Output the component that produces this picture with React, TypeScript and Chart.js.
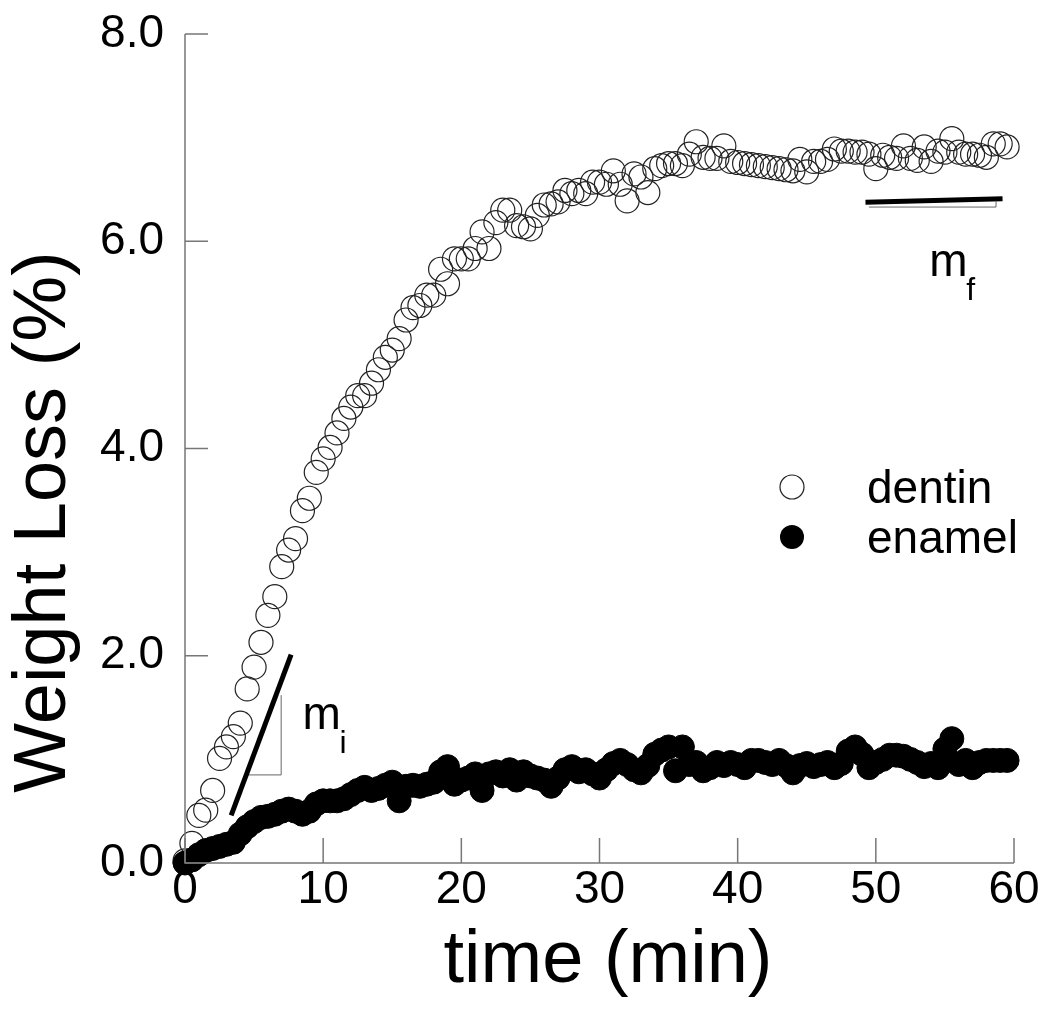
import React, { useEffect, useRef } from "react";
import { Chart, registerables } from "chart.js";

Chart.register(...registerables);

const timeMin = [
  0, 0.5, 1, 1.5, 2, 2.5, 3, 3.5, 4, 4.5,
  5, 5.5, 6, 6.5, 7, 7.5, 8, 8.5, 9, 9.5,
  10, 10.5, 11, 11.5, 12, 12.5, 13, 13.5, 14, 14.5,
  15, 15.5, 16, 16.5, 17, 17.5, 18, 18.5, 19, 19.5,
  20, 20.5, 21, 21.5, 22, 22.5, 23, 23.5, 24, 24.5,
  25, 25.5, 26, 26.5, 27, 27.5, 28, 28.5, 29, 29.5,
  30, 30.5, 31, 31.5, 32, 32.5, 33, 33.5, 34, 34.5,
  35, 35.5, 36, 36.5, 37, 37.5, 38, 38.5, 39, 39.5,
  40, 40.5, 41, 41.5, 42, 42.5, 43, 43.5, 44, 44.5,
  45, 45.5, 46, 46.5, 47, 47.5, 48, 48.5, 49, 49.5,
  50, 50.5, 51, 51.5, 52, 52.5, 53, 53.5, 54, 54.5,
  55, 55.5, 56, 56.5, 57, 57.5, 58, 58.5, 59, 59.5,
];

const dentin = [
  0.02, 0.19, 0.46, 0.51, 0.70, 1.01, 1.12, 1.22, 1.35, 1.68,
  1.89, 2.13, 2.39, 2.57, 2.86, 3.02, 3.13, 3.40, 3.52, 3.77,
  3.90, 4.01, 4.15, 4.29, 4.40, 4.51, 4.51, 4.63, 4.76, 4.88,
  4.95, 5.06, 5.24, 5.36, 5.38, 5.48, 5.48, 5.73, 5.59, 5.83,
  5.83, 5.83, 5.93, 6.09, 5.93, 6.18, 6.30, 6.30, 6.15, 6.14,
  6.12, 6.25, 6.35, 6.36, 6.38, 6.49, 6.46, 6.49, 6.46, 6.57,
  6.57, 6.55, 6.68, 6.55, 6.39, 6.65, 6.62, 6.47, 6.70, 6.73,
  6.75, 6.75, 6.73, 6.84, 6.96, 6.81, 6.80, 6.80, 6.92, 6.77,
  6.76, 6.75, 6.74, 6.73, 6.72, 6.71, 6.70, 6.69, 6.68, 6.79,
  6.67, 6.77, 6.77, 6.79, 6.89, 6.87, 6.87, 6.86, 6.86, 6.84,
  6.70, 6.83, 6.81, 6.80, 6.92, 6.80, 6.78, 6.91, 6.77, 6.87,
  6.86, 6.99, 6.86, 6.84, 6.84, 6.83, 6.81, 6.94, 6.94, 6.91,
];

const enamel = [
  0.00, 0.03, 0.08, 0.12, 0.14, 0.16, 0.18, 0.20, 0.28, 0.35,
  0.40, 0.44, 0.45, 0.47, 0.50, 0.52, 0.50, 0.47, 0.50, 0.57,
  0.60, 0.60, 0.60, 0.62, 0.66, 0.70, 0.73, 0.70, 0.72, 0.75,
  0.78, 0.60, 0.74, 0.75, 0.74, 0.76, 0.78, 0.88, 0.93, 0.76,
  0.80, 0.82, 0.86, 0.70, 0.86, 0.88, 0.84, 0.90, 0.80, 0.88,
  0.84, 0.82, 0.80, 0.74, 0.82, 0.90, 0.93, 0.88, 0.90, 0.86,
  0.82, 0.90, 0.96, 0.99, 0.95, 0.90, 0.87, 0.94, 1.05, 1.09,
  1.12, 0.89, 1.12, 0.95, 0.97, 0.89, 0.92, 0.97, 0.94, 0.97,
  0.95, 0.92, 0.99, 0.99, 0.97, 0.95, 0.99, 0.94, 0.87, 0.94,
  0.96, 0.93, 0.95, 0.97, 0.92, 0.96, 1.08, 1.12, 1.05, 0.92,
  0.97, 1.00, 1.04, 1.04, 1.03, 1.00, 0.97, 0.93, 0.96, 0.92,
  1.10, 1.20, 0.95, 0.99, 0.92, 0.97, 0.99, 0.99, 0.99, 0.99,
];

const xTicks = [0, 10, 20, 30, 40, 50, 60];
const yTicks = [0, 2, 4, 6, 8];

// slope annotations (data coordinates)
const miLineX = [3.34, 7.68];
const miLineY = [0.46, 2.01];
const miTriX = [4.43, 6.96, 6.96];
const miTriY = [0.85, 0.85, 1.62];
const mfLineX = [49.25, 59.17];
const mfLineY = [6.377, 6.41];
const mfTriX = [49.5, 58.7, 58.7];
const mfTriY = [6.33, 6.33, 6.39];
const miLabelAt = { x: 8.5, y: 1.29 };
const mfLabelAt = { x: 53.87, y: 5.66 };

const FONT = '"Liberation Sans", Arial, sans-serif';

const zip = (xs: number[], ys: number[]) => xs.map((x, i) => ({ x, y: ys[i] }));

const customDraw = {
  id: "customDraw",
  afterDraw(chart: any) {
    const { ctx, chartArea, scales } = chart;
    const x = scales.x;
    const y = scales.y;
    ctx.save();
    // axes lines
    ctx.strokeStyle = "#777";
    ctx.lineWidth = 1.5;
    ctx.beginPath();
    ctx.moveTo(chartArea.left, chartArea.top);
    ctx.lineTo(chartArea.left, chartArea.bottom);
    ctx.lineTo(chartArea.right, chartArea.bottom);
    ctx.stroke();
    // inward ticks
    ctx.beginPath();
    yTicks.forEach((v) => {
      const py = y.getPixelForValue(v);
      ctx.moveTo(chartArea.left, py);
      ctx.lineTo(chartArea.left + 23, py);
    });
    xTicks.forEach((v) => {
      const px = x.getPixelForValue(v);
      ctx.moveTo(px, chartArea.bottom);
      ctx.lineTo(px, chartArea.bottom - 25);
    });
    ctx.stroke();

    // axis titles
    ctx.fillStyle = "#000";
    ctx.font = `74px ${FONT}`;
    ctx.textAlign = "center";
    ctx.textBaseline = "middle";
    ctx.fillText("time (min)", 608, 962);
    ctx.save();
    ctx.translate(45, 522);
    ctx.rotate(-Math.PI / 2);
    ctx.fillText("Weight Loss (%)", 0, 0);
    ctx.restore();

    // slope labels
    ctx.textAlign = "left";
    ctx.textBaseline = "alphabetic";
    const drawSub = (at: { x: number; y: number }, sub: string) => {
      const px = x.getPixelForValue(at.x);
      const py = y.getPixelForValue(at.y);
      ctx.font = `46px ${FONT}`;
      ctx.fillText("m", px, py);
      ctx.font = `32px ${FONT}`;
      ctx.fillText(sub, px + 37, py + 24);
    };
    drawSub(miLabelAt, "i");
    drawSub(mfLabelAt, "f");

    // legend
    ctx.font = `46px ${FONT}`;
    ctx.lineWidth = 1.2;
    ctx.strokeStyle = "#222";
    ctx.beginPath();
    ctx.arc(792, 487, 12, 0, Math.PI * 2);
    ctx.stroke();
    ctx.fillStyle = "#000";
    ctx.beginPath();
    ctx.arc(792, 537, 12, 0, Math.PI * 2);
    ctx.fill();
    ctx.fillText("dentin", 867, 503);
    ctx.fillText("enamel", 867, 553);
    ctx.restore();
  },
};

export default function App() {
  const ref = useRef<HTMLCanvasElement | null>(null);
  useEffect(() => {
    document.body.style.margin = "0";
    const canvas = ref.current;
    if (!canvas) return;
    const chart = new Chart(canvas, {
      type: "scatter",
      data: {
        datasets: [
          {
            label: "enamel",
            data: zip(timeMin, enamel),
            pointRadius: 12,
            pointBackgroundColor: "#000",
            pointBorderColor: "#000",
            pointBorderWidth: 1,
            showLine: false,
            clip: false,
            order: 1,
          } as any,
          {
            label: "dentin",
            data: zip(timeMin, dentin),
            pointRadius: 12,
            pointBackgroundColor: "rgba(0,0,0,0)",
            pointBorderColor: "#222",
            pointBorderWidth: 1.2,
            showLine: false,
            clip: false,
            order: 2,
          } as any,
          {
            type: "line",
            label: "mi",
            data: zip(miLineX, miLineY),
            borderColor: "#000",
            borderWidth: 5,
            pointRadius: 0,
            clip: false,
            order: 0,
          } as any,
          {
            type: "line",
            label: "mi-tri",
            data: zip(miTriX, miTriY),
            borderColor: "#666",
            borderWidth: 1,
            pointRadius: 0,
            clip: false,
            order: 0,
          } as any,
          {
            type: "line",
            label: "mf-tri",
            data: zip(mfTriX, mfTriY),
            borderColor: "#666",
            borderWidth: 1,
            pointRadius: 0,
            clip: false,
            order: 0,
          } as any,
          {
            type: "line",
            label: "mf",
            data: zip(mfLineX, mfLineY),
            borderColor: "#000",
            borderWidth: 5,
            pointRadius: 0,
            clip: false,
            order: 0,
          } as any,
        ],
      },
      options: {
        responsive: false,
        animation: false,
        devicePixelRatio: 1,
        layout: { padding: { left: 0, right: 35, top: 34, bottom: 0 } },
        plugins: { legend: { display: false }, tooltip: { enabled: false } },
        scales: {
          x: {
            type: "linear",
            min: 0,
            max: 60,
            afterFit: (s: any) => {
              s.height = 159;
              s.paddingLeft = 0;
              s.paddingRight = 0;
            },
            grid: { display: false },
            border: { display: false },
            ticks: {
              stepSize: 10,
              autoSkip: false,
              maxRotation: 0,
              padding: -8,
              color: "#000",
              font: { family: FONT, size: 46 },
            },
          },
          y: {
            type: "linear",
            min: 0,
            max: 8,
            afterFit: (s: any) => {
              s.width = 185;
              s.paddingTop = 0;
              s.paddingBottom = 0;
            },
            grid: { display: false },
            border: { display: false },
            ticks: {
              stepSize: 2,
              autoSkip: false,
              padding: 13,
              color: "#000",
              font: { family: FONT, size: 46 },
              callback: (v: any) => Number(v).toFixed(1),
            },
          },
        },
      },
      plugins: [customDraw],
    } as any);
    return () => chart.destroy();
  }, []);
  return (
    <canvas
      ref={ref}
      width={1049}
      height={1022}
      style={{ position: "absolute", left: 0, top: 0, width: 1049, height: 1022 }}
    />
  );
}
